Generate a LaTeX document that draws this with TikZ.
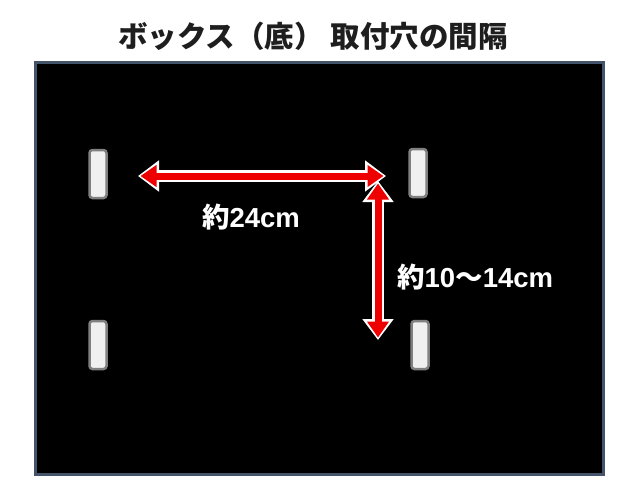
\documentclass[tikz,border=0pt]{standalone}
\usepackage{fontspec}
\setmainfont{Liberation Sans}
\newfontfamily\jpfont{Noto Sans CJK JP}
\usetikzlibrary{arrows.meta}
\definecolor{boxedge}{RGB}{68,84,106}
\definecolor{arrowred}{RGB}{238,0,0}
\definecolor{slotfill}{RGB}{240,240,240}
\definecolor{slotedge}{RGB}{128,128,128}
\definecolor{titlecol}{RGB}{30,30,30}
\tikzset{
  slot/.style={draw=slotedge, fill=slotfill, line width=2.5pt, rounded corners=3pt, minimum width=17pt, minimum height=48pt, inner sep=0pt},
  glowarrow/.style={draw=white, line width=12pt, {Triangle[length=21pt,width=30pt]}-{Triangle[length=21pt,width=30pt]}},
  redarrow/.style={draw=arrowred, line width=7pt, shorten >=2.5pt, shorten <=2.5pt, {Triangle[length=16pt,width=21pt]}-{Triangle[length=16pt,width=21pt]}},
  lbl/.style={text=white, font=\bfseries\fontsize{27.5}{30}\selectfont, inner sep=0pt}
}
\begin{document}
\begin{tikzpicture}[x=1pt,y=-1pt]
\useasboundingbox (0,0) rectangle (640,480);
\fill[white] (0,0) rectangle (640,480);
\node[font=\jpfont\bfseries\fontsize{29.5}{32}\selectfont, text=titlecol] (title) at (313,36) {ボックス（底） 取付穴の間隔};
\node[draw=boxedge, fill=black, line width=2.5pt, minimum width=568pt, minimum height=412pt, inner sep=0pt, anchor=north west] (box) at (34,61) {};
\node[slot] (s1) at (98,174) {};
\node[slot] (s2) at (418,173) {};
\node[slot] (s3) at (98,345) {};
\node[slot] (s4) at (420,345) {};
\coordinate (h1) at (138,176);
\coordinate (h2) at (386,176);
\coordinate (v1) at (378,181);
\coordinate (v2) at (378,340);
\draw[glowarrow] (h1) -- (h2);
\draw[glowarrow] (v1) -- (v2);
\draw[redarrow] (h1) -- (h2);
\draw[redarrow] (v1) -- (v2);
\node[lbl] (l1) at (251,217) {{\jpfont 約}24cm};
\node[lbl, anchor=west] (l2) at (397,277) {{\jpfont 約}10{\jpfont ～}14cm};
\end{tikzpicture}
\end{document}
